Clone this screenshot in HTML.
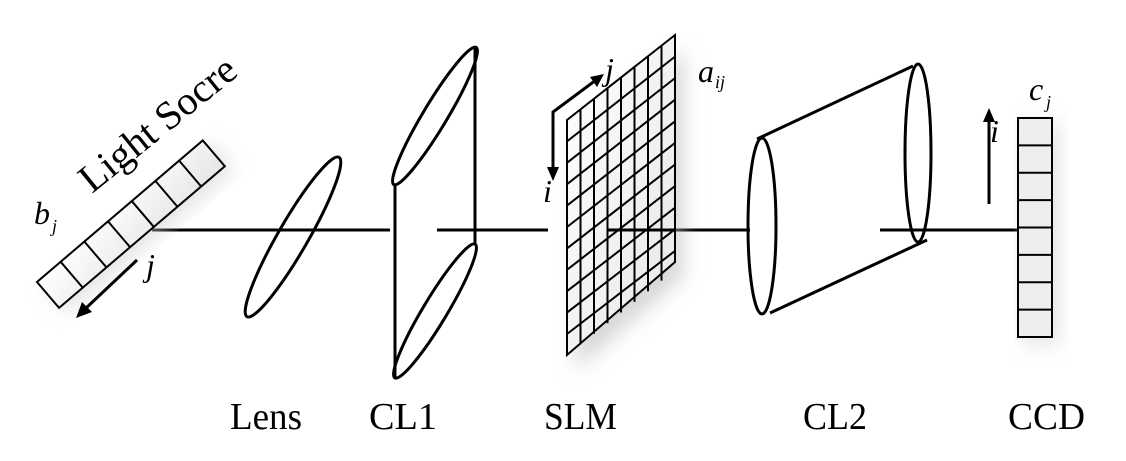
<!DOCTYPE html>
<html><head><meta charset="utf-8"><style>
html,body{margin:0;padding:0;background:#fff}
svg{display:block}
text{font-family:"Liberation Serif",serif;fill:#000}
</style></head><body>
<svg width="1126" height="461" viewBox="0 0 1126 461" xmlns="http://www.w3.org/2000/svg">
<defs>
<filter id="sh" x="-30%" y="-30%" width="160%" height="160%"><feGaussianBlur stdDeviation="10"/></filter>
<linearGradient id="g1" x1="0" y1="0" x2="1" y2="1"><stop offset="0" stop-color="#fff"/><stop offset="1" stop-color="#e6e6e6"/></linearGradient>
</defs>
<g stroke="#000" fill="none">
<g stroke-width="3">
<line x1="152" y1="230" x2="390" y2="230"/>
<line x1="437" y1="230" x2="548" y2="230"/>
<line x1="607" y1="230" x2="750" y2="230"/>
<line x1="880" y1="230" x2="1017" y2="230"/>
</g>
<g transform="translate(37,282) rotate(-40.5)">
<rect x="4" y="8" width="218" height="34" fill="#ccc" stroke="none" filter="url(#sh)" opacity="0.6"/>
<rect x="0" y="0" width="218" height="34" fill="url(#g1)" stroke-width="2"/>
<g stroke-width="2">
<line x1="31.1" y1="0" x2="31.1" y2="34"/><line x1="62.3" y1="0" x2="62.3" y2="34"/><line x1="93.4" y1="0" x2="93.4" y2="34"/><line x1="124.6" y1="0" x2="124.6" y2="34"/><line x1="155.7" y1="0" x2="155.7" y2="34"/><line x1="186.9" y1="0" x2="186.9" y2="34"/>
</g>
</g>
<line x1="137" y1="260" x2="84" y2="310" stroke-width="3"/>
<polygon points="76,318 82,302 92,312" fill="#000" stroke="none"/>
<ellipse cx="293" cy="237" rx="92" ry="15" transform="rotate(-60 293 237)" stroke-width="3"/>
<ellipse cx="435" cy="116" rx="80" ry="12" transform="rotate(-59 435 116)" stroke-width="3"/>
<ellipse cx="435" cy="311" rx="78" ry="12" transform="rotate(-59 435 311)" stroke-width="3"/>
<line x1="395" y1="184" x2="395" y2="378" stroke-width="3"/>
<line x1="475" y1="48" x2="475" y2="244" stroke-width="3"/>
<polygon points="575,135 683,50 683,277 575,370" fill="#bbb" stroke="none" filter="url(#sh)" opacity="0.6"/>
<polygon points="567,120 675,35 675,262 567,355" fill="url(#g1)" stroke-width="2"/>
<polyline points="553,173 553,112 596,80" stroke-width="3"/>
<polygon points="553,181 547,167 559,167" fill="#000" stroke="none"/>
<polygon points="604,74 590,77 597,87" fill="#000" stroke="none"/>
<ellipse cx="762" cy="226" rx="14" ry="88" stroke-width="3"/>
<ellipse cx="918" cy="153" rx="13" ry="89" stroke-width="3"/>
<line x1="757" y1="139" x2="913" y2="66" stroke-width="3"/>
<line x1="770" y1="313" x2="927" y2="240" stroke-width="3"/>
<rect x="1024" y="124" width="34" height="219" fill="#ccc" stroke="none" filter="url(#sh)" opacity="0.6"/>
<rect x="1018" y="118" width="34" height="219" fill="#eee" stroke-width="2"/>
<g stroke-width="2">
<line x1="1018" y1="145.4" x2="1052" y2="145.4"/><line x1="1018" y1="172.8" x2="1052" y2="172.8"/><line x1="1018" y1="200.1" x2="1052" y2="200.1"/><line x1="1018" y1="227.5" x2="1052" y2="227.5"/><line x1="1018" y1="254.9" x2="1052" y2="254.9"/><line x1="1018" y1="282.3" x2="1052" y2="282.3"/><line x1="1018" y1="309.6" x2="1052" y2="309.6"/>
</g>
<line x1="989" y1="204" x2="989" y2="118" stroke-width="3"/>
<polygon points="989,108 983,122 995,122" fill="#000" stroke="none"/>
</g>
<text x="0" y="0" font-size="40" transform="translate(92,194) rotate(-39)" textLength="190" lengthAdjust="spacingAndGlyphs">Light Socre</text>
<text x="34" y="224" font-size="32" font-style="italic">b</text>
<text x="52" y="232" font-size="18" font-style="italic">j</text>
<text x="146" y="276" font-size="32" font-style="italic">j</text>
<text x="605" y="80" font-size="32" font-style="italic">j</text>
<text x="543" y="202" font-size="32" font-style="italic">i</text>
<text x="698" y="82" font-size="32" font-style="italic">a</text>
<text x="715" y="88" font-size="18" font-style="italic">ij</text>
<text x="1029" y="100" font-size="32" font-style="italic">c</text>
<text x="1046" y="108" font-size="18" font-style="italic">j</text>
<text x="990" y="142" font-size="32" font-style="italic">i</text>
<g font-size="38">
<text x="230" y="429" textLength="72" lengthAdjust="spacingAndGlyphs">Lens</text>
<text x="369" y="429" textLength="68" lengthAdjust="spacingAndGlyphs">CL1</text>
<text x="544" y="429" textLength="73" lengthAdjust="spacingAndGlyphs">SLM</text>
<text x="803" y="429" textLength="64" lengthAdjust="spacingAndGlyphs">CL2</text>
<text x="1008" y="429" textLength="77" lengthAdjust="spacingAndGlyphs">CCD</text>
</g>
<g stroke="#000" stroke-width="2">
<line x1="580.5" y1="109.4" x2="580.5" y2="344.4"/><line x1="594" y1="98.8" x2="594" y2="333.8"/><line x1="607.5" y1="88.1" x2="607.5" y2="323.1"/><line x1="621" y1="77.5" x2="621" y2="312.5"/><line x1="634.5" y1="66.9" x2="634.5" y2="301.9"/><line x1="648" y1="56.3" x2="648" y2="291.3"/><line x1="661.5" y1="45.6" x2="661.5" y2="280.6"/>
<line x1="567" y1="141.4" x2="675" y2="56.6"/><line x1="567" y1="162.8" x2="675" y2="78.1"/><line x1="567" y1="184.2" x2="675" y2="99.7"/><line x1="567" y1="205.6" x2="675" y2="121.3"/><line x1="567" y1="227" x2="675" y2="142.9"/><line x1="567" y1="248.4" x2="675" y2="164.5"/><line x1="567" y1="269.8" x2="675" y2="186.1"/><line x1="567" y1="291.2" x2="675" y2="207.7"/><line x1="567" y1="312.6" x2="675" y2="229.3"/><line x1="567" y1="334" x2="675" y2="250.9"/>
</g>
<line x1="607" y1="230" x2="675" y2="230" stroke="#000" stroke-width="3"/>
</svg>
</body></html>
